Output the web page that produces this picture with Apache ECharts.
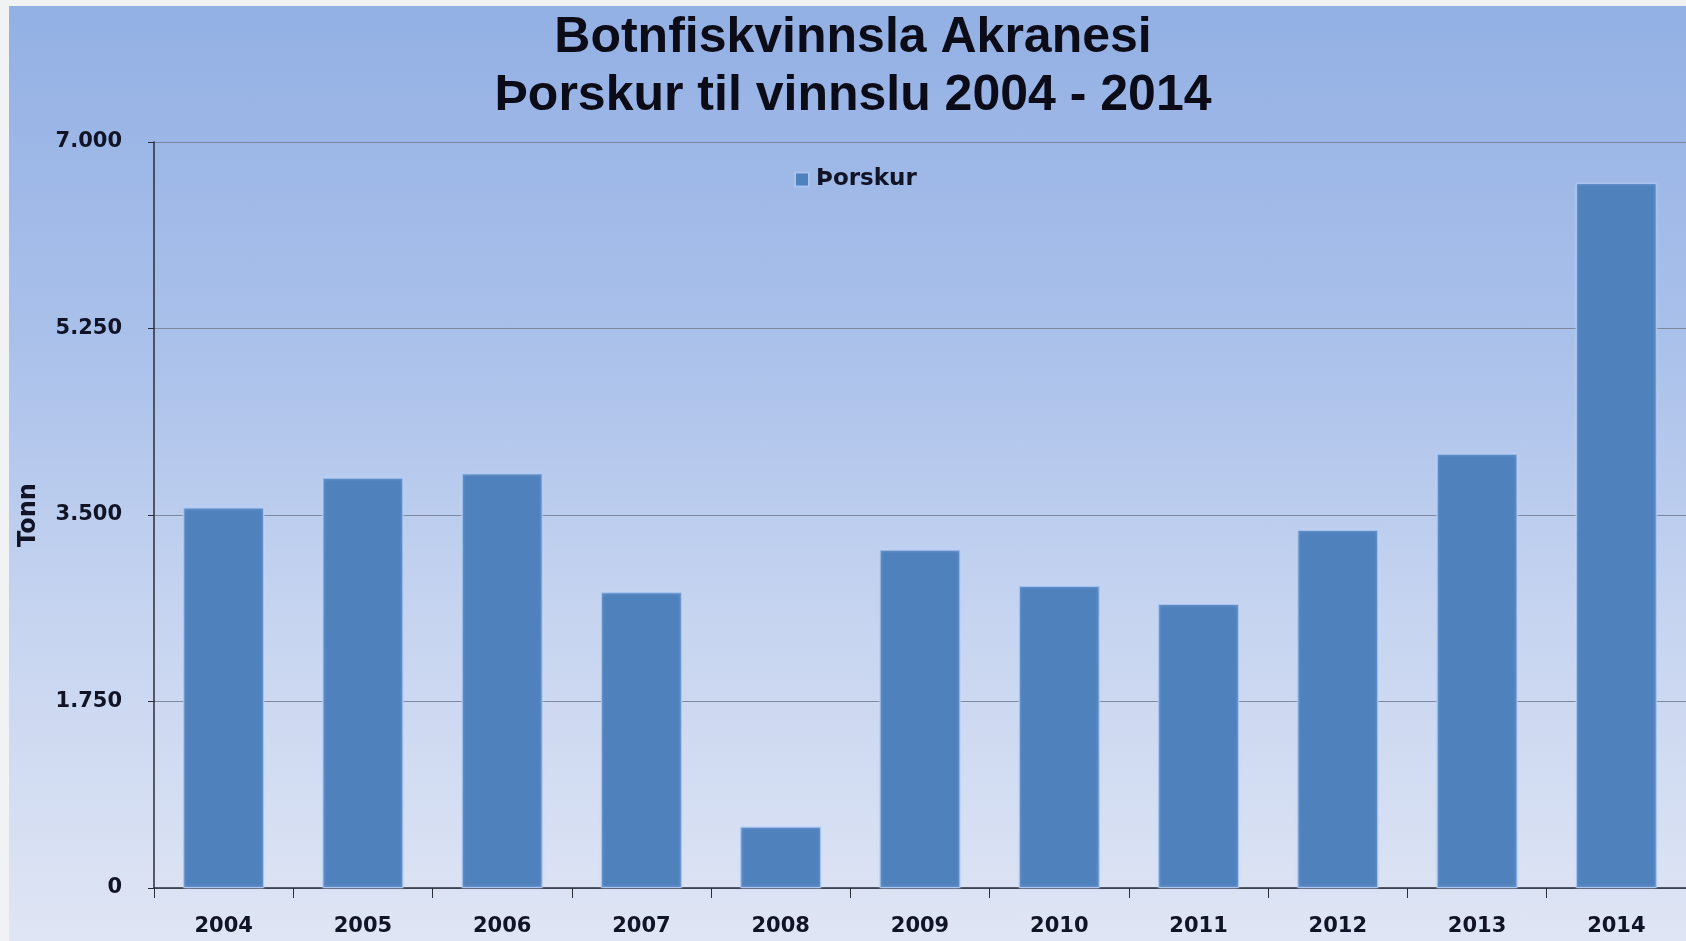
<!DOCTYPE html>
<html>
<head>
<meta charset="utf-8">
<script src="https://cdn.jsdelivr.net/npm/echarts@6/dist/echarts.min.js"></script>
<style>
  html, body { margin: 0; padding: 0; background: #f1f2f4; }
  #bg {
    position: absolute; left: 9px; top: 6px; width: 1677px; height: 935px;
    background: linear-gradient(to bottom, #93b0e4 0%, #a9c0ea 35%, #c6d4f0 65%, #dfe5f4 100%);
  }
  #chart { position: absolute; left: 0; top: 0; width: 1686px; height: 941px; }
</style>
</head>
<body>
<div id="bg"></div>
<div id="chart"></div>
<script>
// ár og tonn af þorski til vinnslu
var years = ['2004', '2005', '2006', '2007', '2008', '2009', '2010', '2011', '2012', '2013', '2014'];
var thorskur = [3570, 3850, 3890, 2775, 575, 3175, 2835, 2665, 3360, 4075, 6615];
var yTicks = [0, 1750, 3500, 5250, 7000];

function dotThousands(v) {
  return String(v).replace(/\B(?=(\d{3})+(?!\d))/g, '.');
}

var myChart = echarts.init(document.getElementById('chart'));
var option = {
  backgroundColor: 'transparent',
  title: {
    text: 'Botnfiskvinnsla Akranesi\nÞorskur til vinnslu 2004 - 2014',
    left: 848,
    top: 4,
    textAlign: 'center',
    textStyle: {
      fontFamily: 'Liberation Sans',
      fontWeight: 'bold',
      fontSize: 50,
      lineHeight: 58,
      color: '#0c0c18'
    }
  },
  legend: {
    data: ['Þorskur'],
    left: 789,
    top: 163,
    icon: 'rect',
    itemWidth: 14,
    itemHeight: 14,
    textStyle: {
      fontFamily: 'DejaVu Sans',
      fontWeight: 'bold',
      fontSize: 23,
      color: '#111326',
      padding: [0, 0, 0, 2]
    }
  },
  grid: {
    left: 154,
    top: 142,
    right: 0,
    bottom: 53,
    containLabel: false
  },
  xAxis: {
    type: 'category',
    data: years,
    axisLine: { lineStyle: { color: '#2a2d3a', width: 1.5 } },
    axisTick: { show: true, length: 10, lineStyle: { color: '#2a2d3a', width: 1 } },
    axisLabel: {
      margin: 28,
      fontFamily: 'DejaVu Sans',
      fontWeight: 'bold',
      fontSize: 21,
      color: '#111326'
    }
  },
  yAxis: {
    type: 'value',
    min: 0,
    max: 7000,
    interval: 1750,
    name: 'Tonn',
    nameLocation: 'middle',
    nameGap: 113,
    nameTextStyle: {
      fontFamily: 'DejaVu Sans',
      fontWeight: 'bold',
      fontSize: 24,
      color: '#111326'
    },
    axisLine: { show: true, lineStyle: { color: '#2a2d3a', width: 1.5 } },
    axisTick: { show: true, length: 6, lineStyle: { color: '#2a2d3a', width: 1 } },
    axisLabel: {
      margin: 32,
      fontFamily: 'DejaVu Sans',
      fontWeight: 'bold',
      fontSize: 21,
      color: '#111326',
      formatter: function (v) {
        return yTicks.indexOf(v) >= 0 ? dotThousands(v) : '';
      }
    },
    splitLine: { lineStyle: { color: '#7d889f', width: 1 } }
  },
  series: [
    {
      name: 'Þorskur',
      type: 'bar',
      data: thorskur,
      barWidth: '58%',
      itemStyle: {
        color: '#4f81bd',
        borderColor: '#a9c4ee',
        borderWidth: 1,
        shadowColor: 'rgba(200,220,255,0.6)',
        shadowBlur: 3
      }
    }
  ]
};
myChart.setOption(option);
</script>
</body>
</html>
